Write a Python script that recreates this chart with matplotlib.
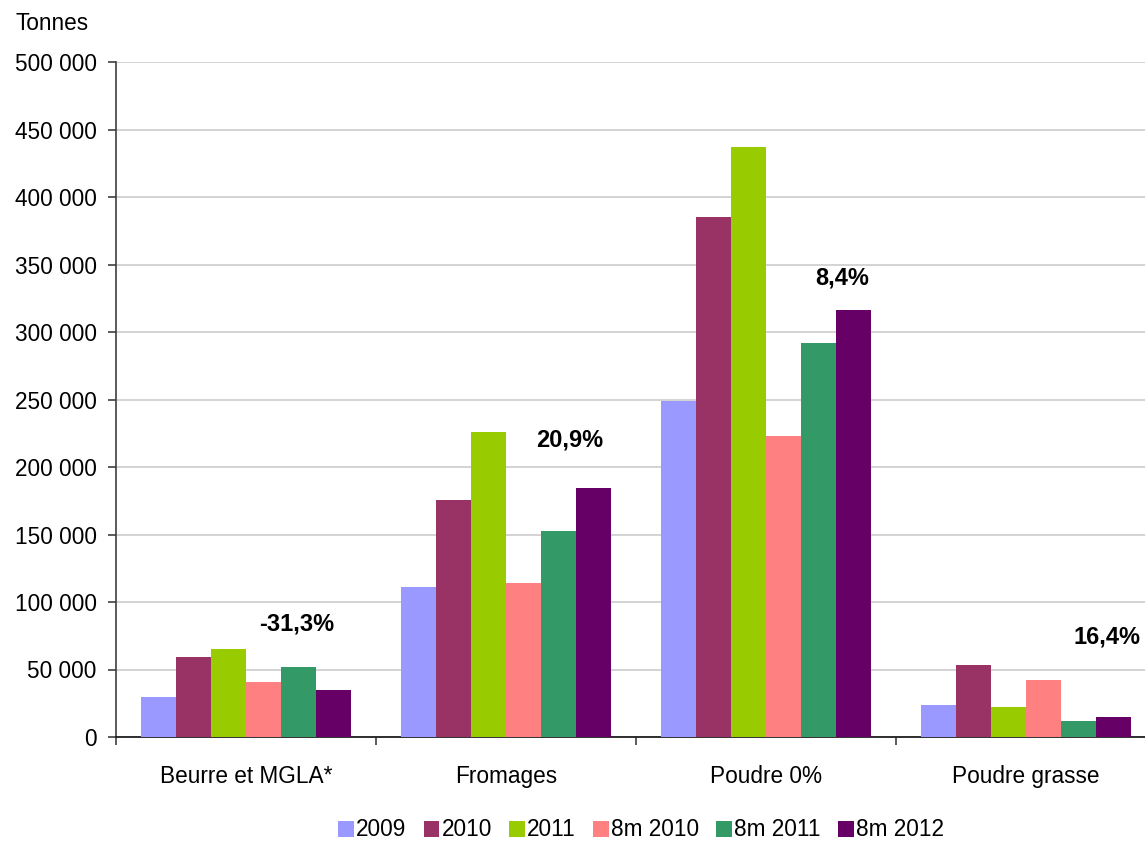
import matplotlib
matplotlib.use("Agg")
import matplotlib.pyplot as plt
from matplotlib.ticker import FuncFormatter, FixedLocator
import numpy as np

plt.rcParams['font.family'] = ['Liberation Sans', 'DejaVu Sans']

categories = ["Beurre et MGLA*", "Fromages", "Poudre 0%", "Poudre grasse"]
series_names = ["2009", "2010", "2011", "8m 2010", "8m 2011", "8m 2012"]
v2009 = [30000, 111000, 249000, 23500]
v2010 = [59000, 175500, 385000, 53000]
v2011 = [65000, 226000, 437000, 22000]
v8m2010 = [40500, 114000, 223000, 42000]
v8m2011 = [51800, 152500, 292000, 11500]
v8m2012 = [34700, 184500, 316000, 14500]
series_values = [v2009, v2010, v2011, v8m2010, v8m2011, v8m2012]
colors = ["#9999FF", "#993366", "#99CC00", "#FF8080", "#339966", "#660066"]
annotations = ["-31,3%", "20,9%", "8,4%", "16,4%"]
ann_dx = [0.196, 0.246, 0.292, 0.31]
ann_y = [84000, 220000, 340000, 74000]

W, H = 1145, 842
FS = 16.3
fig = plt.figure(figsize=(W / 100, H / 100), dpi=100)
ax = fig.add_axes([116 / W, (H - 737) / H, (W - 116) / W, 675 / H])

x = np.arange(len(categories))
bw = 35 / 260
for k, (name, vals, c) in enumerate(zip(series_names, series_values, colors)):
    ax.bar(x + (k - 2.5) * bw, vals, width=bw, color=c, label=name, zorder=3, linewidth=0)

for i, (t, dx, yy) in enumerate(zip(annotations, ann_dx, ann_y)):
    ax.text(i + dx, yy, t, ha='center', va='center', fontsize=17, fontweight='bold', zorder=5)

ax.yaxis.set_major_locator(FixedLocator(np.arange(0, 500001, 50000)))
ax.yaxis.set_major_formatter(FuncFormatter(lambda v, p: f"{int(v):,}".replace(",", " ")))
ax.grid(axis='y', color='#D0D0D0', linewidth=1.3, zorder=0)
ax.set_axisbelow(True)

ax.set_xticks(x)
ax.set_xticklabels(categories)
ax.set_xticks(np.arange(-0.5, 4.0, 1.0), minor=True)
ax.tick_params(axis='x', which='major', length=0, pad=20, labelsize=FS)
ax.tick_params(axis='x', which='minor', length=6, width=1.2, direction='out', color='#404040')
ax.tick_params(axis='y', length=6, width=1.2, direction='out', color='#404040', pad=8, labelsize=FS)

ax.set_xlim(-0.5, -0.5 + (W - 116) / 260)
ax.set_ylim(0, 500000)

for s in ['top', 'right']:
    ax.spines[s].set_visible(False)
ax.spines['left'].set_color('#404040')
ax.spines['left'].set_linewidth(1.2)
ax.spines['bottom'].set_color('#202020')
ax.spines['bottom'].set_linewidth(1.3)

fig.text(15 / W, 1 - 23 / H, "Tonnes", ha='left', va='center', fontsize=FS)

fig.legend(loc='center', bbox_to_anchor=(641 / W, 12 / H), ncol=6, frameon=False,
           fontsize=FS, handlelength=0.7, handleheight=0.7, handletextpad=0.1,
           columnspacing=0.75, borderaxespad=0)

fig.savefig("out.png", dpi=100)
